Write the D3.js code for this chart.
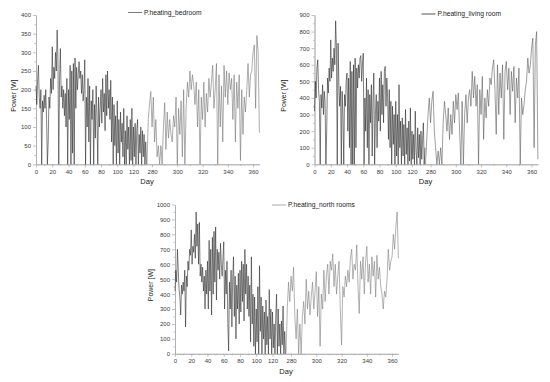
<!DOCTYPE html>
<html>
<head>
<meta charset="utf-8">
<script src="https://cdn.jsdelivr.net/npm/d3@7/dist/d3.min.js"></script>
<style>
  body { margin: 0; background: #fff; }
  svg { display: block; font-family: "Liberation Sans", Arial, sans-serif; }
  .axis path, .axis line { stroke: #a8a8a8; stroke-width: 0.7; }
  .axis text { fill: #3a3a3a; font-size: 6px; }
  .title { fill: #222; font-size: 7px; }
  .legend { fill: #222; font-size: 6.7px; }
</style>
</head>
<body>
<svg id="chart" width="550" height="382"></svg>
<script>
// Days shown on the broken x axis: winter/spring part and autumn part
const earlyDays = d3.range(0, 137);
const lateDays = d3.range(276, 366);
const dayTicks = [0, 20, 40, 60, 80, 100, 120, 280, 300, 320, 340, 360];

// P.heating_bedroom [W]
const bedroomEarly = [
  210, 160, 230, 265, 180, 150, 200, 0, 170, 140,
  185, 150, 200, 120, 0, 60, 180, 150, 230, 190,
  315, 200, 260, 230, 300, 250, 360, 280, 0, 230,
  310, 180, 210, 150, 200, 130, 190, 100, 230, 0,
  200, 120, 265, 0, 250, 30, 270, 0, 285, 150,
  260, 200, 240, 275, 230, 250, 190, 240, 170, 200,
  280, 0, 180, 100, 230, 60, 210, 0, 170, 120,
  200, 0, 160, 70, 210, 130, 0, 180, 100, 150,
  200, 110, 230, 140, 190, 90, 240, 130, 250, 150,
  200, 120, 225, 60, 180, 0, 160, 50, 130, 0,
  170, 30, 120, 0, 140, 60, 110, 20, 150, 0,
  90, 0, 130, 40, 100, 0, 120, 10, 150, 0,
  100, 20, 110, 0, 90, 120, 0, 80, 30, 100,
  0, 90, 20, 80, 0, 60, 0
];
const bedroomLate = [
  0, 120, 160, 195, 100, 180, 60, 120, 20, 50,
  0, 50, 0, 100, 165, 40, 140, 70, 120, 80,
  60, 130, 100, 180, 0, 150, 80, 170, 20, 200,
  0, 150, 220, 180, 250, 200, 240, 210, 160, 220,
  100, 200, 0, 180, 120, 220, 100, 190, 140, 230,
  180, 220, 265, 150, 200, 270, 0, 240, 100, 210,
  60, 265, 180, 250, 160, 245, 200, 230, 120, 240,
  60, 220, 150, 240, 10, 200, 80, 180, 140, 200,
  270, 180, 240, 250, 300, 320, 150, 345, 300, 85
];

// P.heating_living room [W]
const livingEarly = [
  320, 500, 400, 580, 630, 450, 380, 0, 420, 340,
  480, 300, 440, 380, 0, 200, 520, 430, 580, 500,
  750, 520, 640, 560, 700, 600, 865, 700, 0, 730,
  480, 350, 470, 0, 440, 300, 0, 420, 350, 500,
  550, 200, 520, 100, 620, 0, 560, 0, 600, 0,
  640, 100, 580, 460, 600, 520, 640, 655, 500, 600,
  670, 0, 400, 200, 520, 100, 450, 0, 420, 250,
  480, 50, 380, 550, 0, 300, 420, 100, 380, 260,
  520, 200, 560, 300, 480, 250, 560, 590, 350, 520,
  400, 150, 450, 100, 380, 0, 350, 120, 300, 0,
  380, 50, 300, 0, 480, 100, 260, 0, 280, 50,
  240, 0, 330, 60, 220, 0, 260, 20, 340, 0,
  200, 30, 180, 0, 320, 80, 0, 220, 40, 180,
  0, 200, 30, 150, 250, 0, 100
];
const livingLate = [
  0, 150, 300, 400, 250, 380, 440, 200, 100, 0,
  80, 0, 100, 0, 250, 380, 300, 200, 340, 150,
  300, 180, 380, 250, 420, 330, 430, 200, 0, 380,
  0, 300, 420, 250, 400, 450, 350, 560, 400, 530,
  350, 480, 0, 450, 300, 530, 150, 400, 280, 450,
  350, 520, 480, 580, 630, 450, 180, 600, 300, 550,
  400, 600, 150, 560, 620, 450, 580, 300, 560, 440,
  590, 250, 520, 400, 580, 0, 400, 300, 360, 450,
  500, 640, 550, 600, 700, 760, 100, 720, 800, 30
];

// P.heating_north rooms [W]
const northEarly = [
  420, 560, 480, 700, 560, 430, 380, 260, 460, 400,
  480, 420, 560, 180, 520, 450, 620, 560, 700, 660,
  830, 600, 720, 680, 800, 640, 950, 720, 870, 600,
  880, 520, 600, 480, 580, 420, 520, 300, 560, 400,
  620, 300, 760, 420, 700, 260, 780, 400, 820, 480,
  850, 360, 700, 560, 680, 500, 740, 600, 520, 640,
  750, 300, 560, 400, 620, 200, 20, 480, 300, 560,
  180, 500, 650, 250, 520, 100, 460, 300, 540, 200,
  560, 280, 620, 350, 600, 220, 700, 400, 600, 300,
  520, 250, 460, 80, 650, 200, 400, 50, 380, 0,
  300, 80, 450, 0, 590, 150, 380, 0, 320, 100,
  280, 0, 360, 60, 250, 0, 430, 100, 300, 0,
  280, 40, 200, 0, 250, 400, 0, 300, 50, 200,
  0, 220, 60, 320, 0, 150, 0
];
const northLate = [
  0, 300, 480, 350, 520, 420, 580, 250, 100, 300,
  0, 200, 0, 250, 350, 200, 500, 300, 420, 260,
  380, 480, 300, 420, 550, 250, 450, 50, 400, 300,
  560, 350, 520, 600, 400, 620, 560, 670, 450, 600,
  400, 520, 620, 300, 60, 450, 380, 520, 450, 560,
  480, 640, 700, 500, 600, 560, 730, 450, 270, 620,
  500, 650, 400, 620, 720, 480, 600, 400, 650, 520,
  620, 380, 660, 500, 580, 450, 400, 300, 420, 380,
  500, 700, 560, 620, 650, 800, 700, 850, 950, 640
];

// Layout of the three panels
const panels = [
  { name: "P.heating_bedroom", early: bedroomEarly, late: bedroomLate,
    max: 400, step: 50, left: 36, top: 15,
    earlyColor: "#2e2e2e", lateColor: "#777", legendColor: "#7a7a7a",
    legendX: 92, legendY: -2.5, ylabX: -20 },
  { name: "P.heating_living room", early: livingEarly, late: livingLate,
    max: 900, step: 100, left: 314.5, top: 15,
    earlyColor: "#2a2a2a", lateColor: "#5e5e5e", legendColor: "#555",
    legendX: 107, legendY: -1, ylabX: -29 },
  { name: "P.heating_north rooms", early: northEarly, late: northLate,
    max: 1000, step: 100, left: 175, top: 204.5,
    earlyColor: "#2e2e2e", lateColor: "#808080", legendColor: "#aaa",
    legendX: 97, legendY: 0.5, ylabX: -22.5 }
];

const H = 149.3;
const svg = d3.select("#chart");

function drawPanel(p)
{
  const g = svg.append("g").attr("transform", `translate(${p.left},${p.top})`);

  // Broken axis: days 0-136 then 276-365 with a wider scale
  const x = d3.scaleLinear()
    .domain([0, 136, 276, 365])
    .range([0, 110.5, 111, 223.4]);
  const y = d3.scaleLinear().domain([0, p.max]).range([H, 0]);

  const yTicks = d3.range(0, p.max + 1, p.step);
  const yMinor = d3.range(p.step / 2, p.max, p.step);
  const xMinor = [10, 30, 50, 70, 90, 110, 130, 290, 310, 330, 350];

  // Minor ticks
  g.append("g").attr("class", "axis")
    .attr("transform", `translate(0,${H})`)
    .call(d3.axisBottom(x).tickValues(xMinor).tickSize(1.5).tickSizeOuter(0).tickFormat(""));
  g.append("g").attr("class", "axis")
    .call(d3.axisLeft(y).tickValues(yMinor).tickSize(1.5).tickSizeOuter(0).tickFormat(""));

  // Main axes
  g.append("g").attr("class", "axis")
    .attr("transform", `translate(0,${H})`)
    .call(d3.axisBottom(x).tickValues(dayTicks).tickSize(3).tickSizeOuter(0).tickPadding(2)
      .tickFormat(d3.format("d")));
  g.append("g").attr("class", "axis")
    .call(d3.axisLeft(y).tickValues(yTicks).tickSize(3).tickSizeOuter(0).tickPadding(2)
      .tickFormat(d3.format("d")));

  // Data lines
  const line = d3.line().x(d => x(d[0])).y(d => y(d[1]));
  const earlyPts = earlyDays.map((d, i) => [d, p.early[i]]).filter(d => d[1] != null);
  const latePts = lateDays.map((d, i) => [d, p.late[i]]).filter(d => d[1] != null);

  g.append("path").datum(earlyPts)
    .attr("d", line).attr("fill", "none")
    .attr("stroke", p.earlyColor).attr("stroke-width", 0.6);
  g.append("path").datum(latePts)
    .attr("d", line).attr("fill", "none")
    .attr("stroke", p.lateColor).attr("stroke-width", 0.6);

  // Axis titles
  g.append("text").attr("class", "title")
    .attr("transform", `translate(${p.ylabX},${H / 2 + 6}) rotate(-90)`)
    .attr("text-anchor", "middle")
    .text("Power [W]");
  g.append("text").attr("class", "title")
    .attr("x", 111).attr("y", H + 20)
    .attr("text-anchor", "middle")
    .style("font-size", "7.5px")
    .text("Day");

  // Legend
  g.append("line")
    .attr("x1", p.legendX).attr("x2", p.legendX + 14)
    .attr("y1", p.legendY).attr("y2", p.legendY)
    .attr("stroke", p.legendColor).attr("stroke-width", 1);
  g.append("text").attr("class", "legend")
    .attr("x", p.legendX + 16).attr("y", p.legendY + 2.4)
    .text(p.name);
}

panels.forEach(drawPanel);
</script>
</body>
</html>
